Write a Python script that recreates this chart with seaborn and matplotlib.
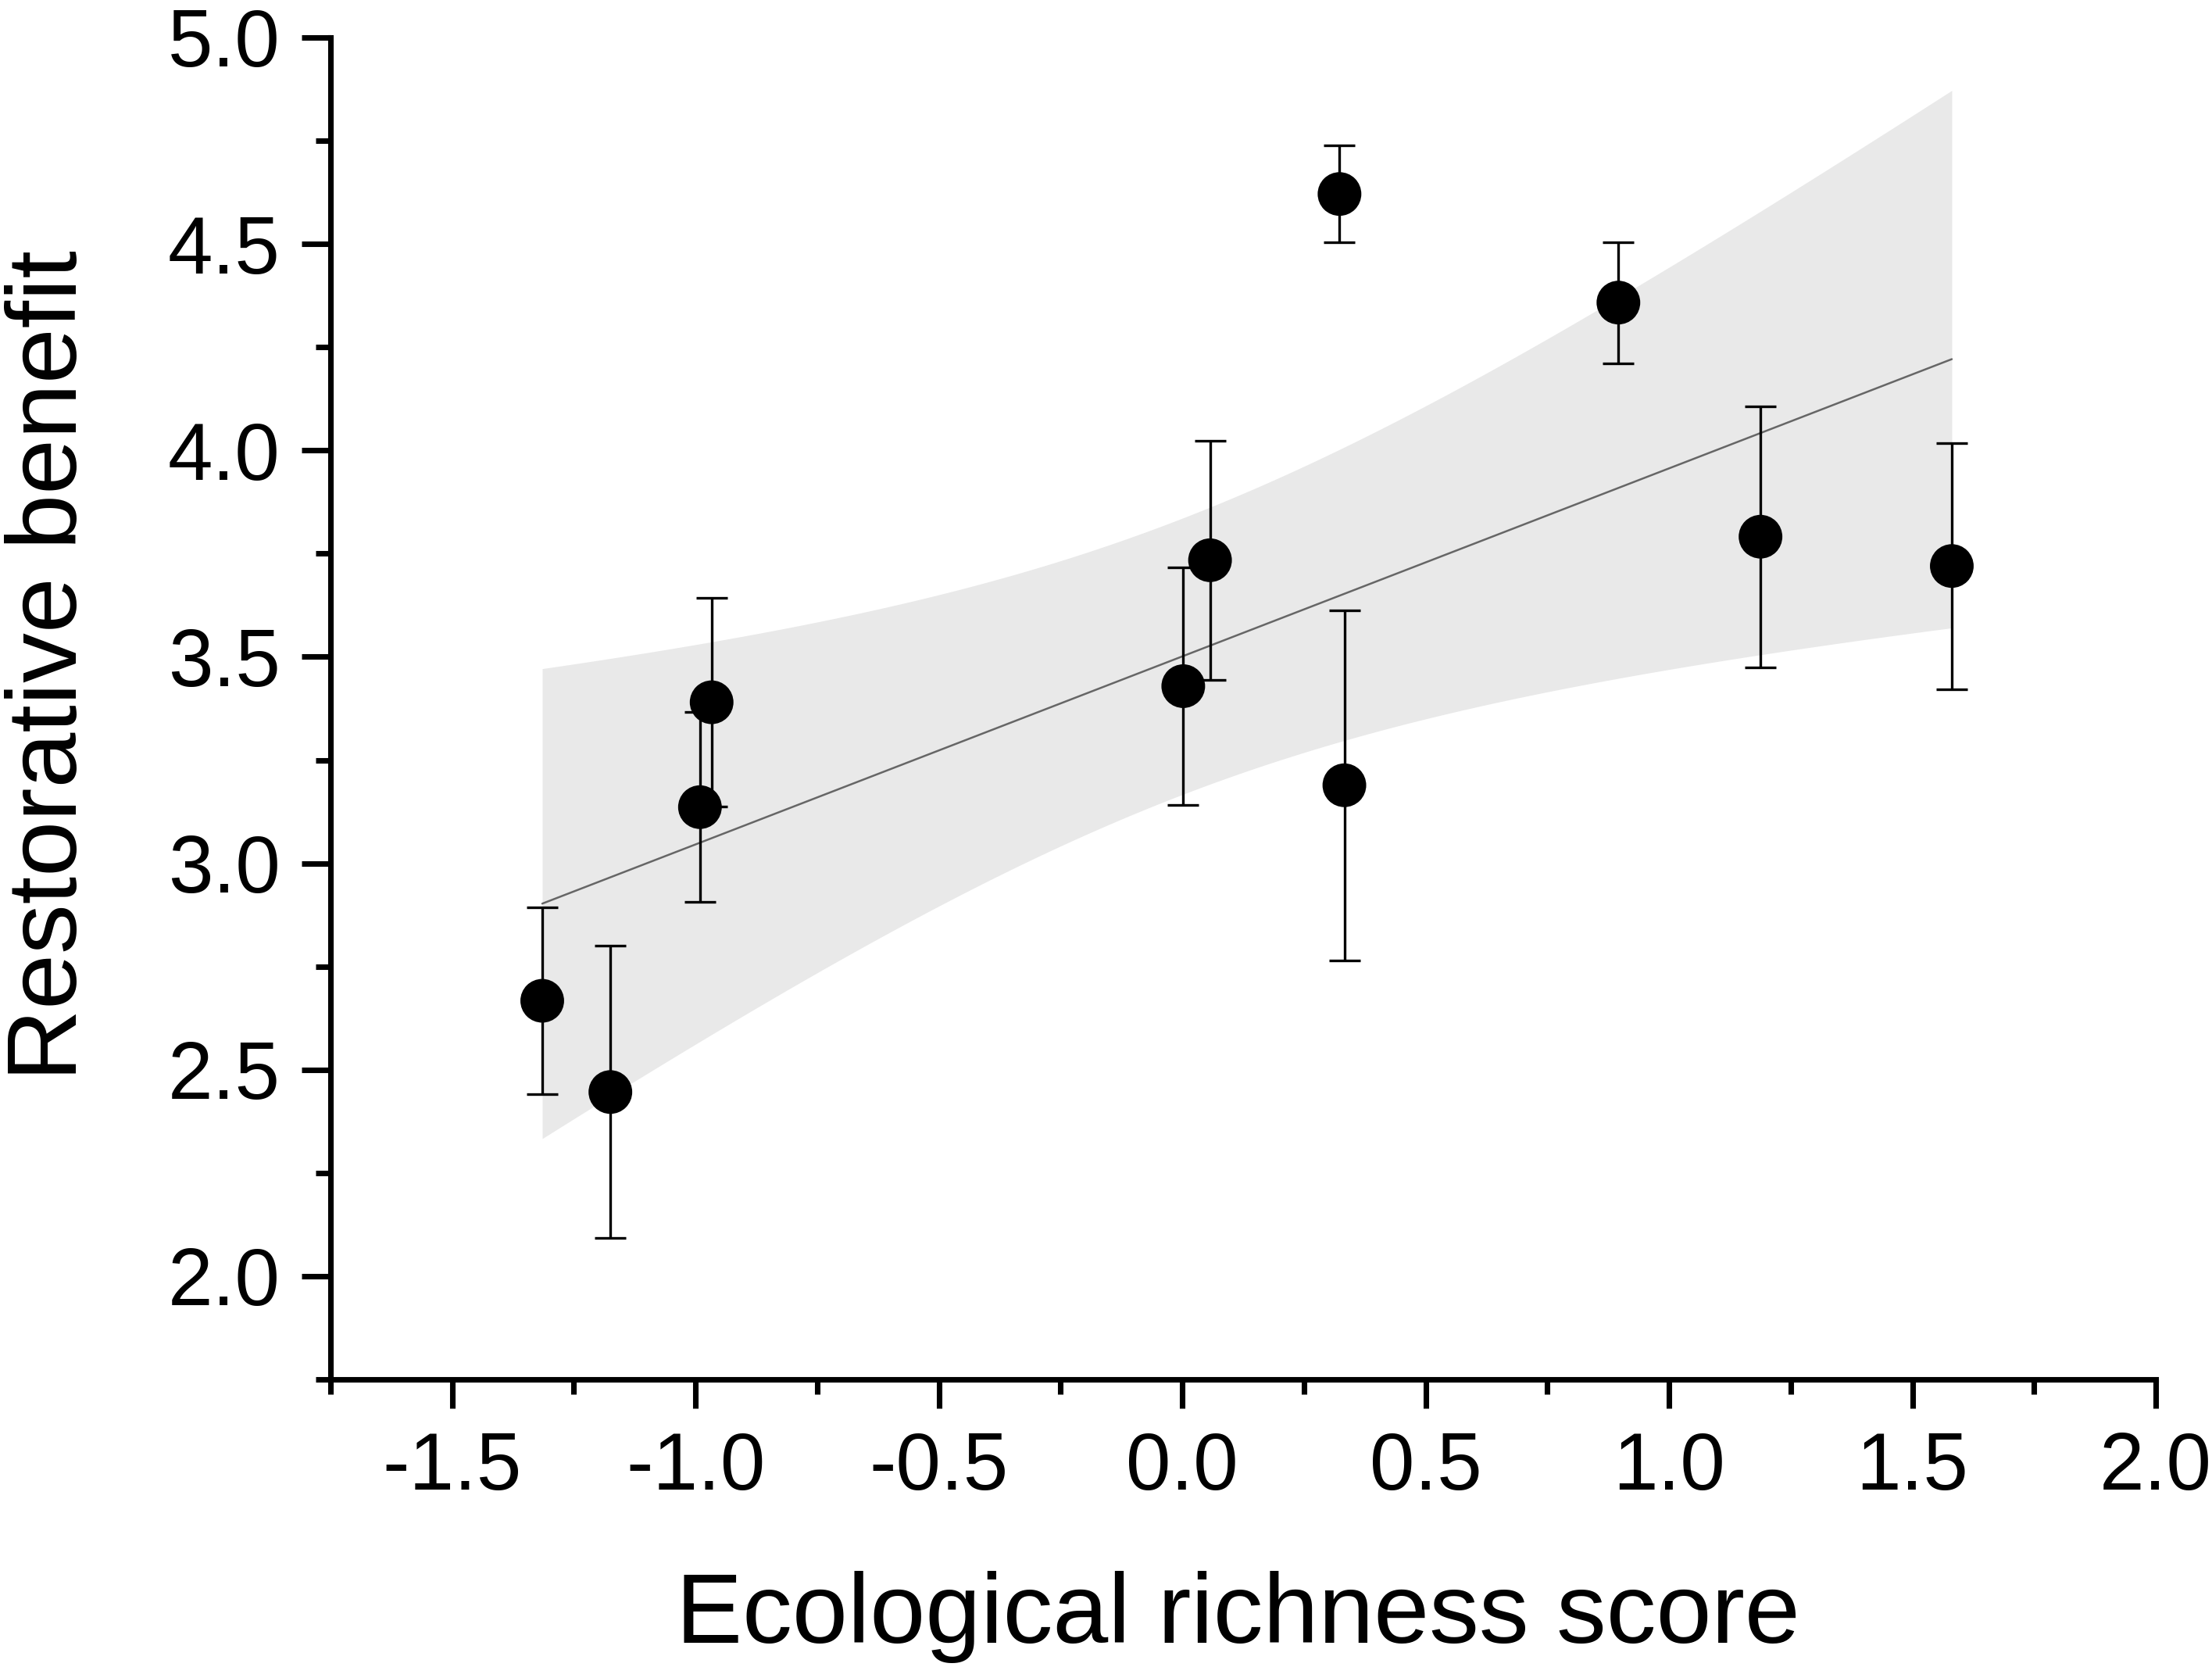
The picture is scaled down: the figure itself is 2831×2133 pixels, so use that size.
import numpy as np
import pandas as pd
import matplotlib
matplotlib.use("Agg")
import matplotlib.pyplot as plt
from matplotlib.ticker import MultipleLocator
import seaborn as sns

# ---- data ----
eco_score = [-1.315, -1.175, -0.991, -0.967, 0.002, 0.057, 0.323, 0.333, 0.896, 1.188, 1.581]
restorative = [2.667, 2.446, 3.136, 3.390, 3.429, 3.734, 4.621, 3.189, 4.358, 3.791, 3.720]
err = [0.226, 0.354, 0.230, 0.253, 0.288, 0.290, 0.117, 0.424, 0.147, 0.316, 0.298]
x_ticks = [-1.5, -1.0, -0.5, 0.0, 0.5, 1.0, 1.5, 2.0]
y_ticks = [2.0, 2.5, 3.0, 3.5, 4.0, 4.5, 5.0]

df = pd.DataFrame({"x": eco_score, "y": restorative, "err": err})

sns.set_style("ticks")
plt.rcParams["font.family"] = ["Liberation Sans", "DejaVu Sans"]
plt.rcParams["axes.unicode_minus"] = False

fig = plt.figure(figsize=(2831 / 300, 2133 / 300), dpi=300)
ax = fig.add_axes([423 / 2831, 1 - 1765 / 2133, (2759 - 423) / 2831, (1765 - 48) / 2133])

# ---- OLS fit with 95% confidence band ----
xv = df["x"].to_numpy()
yv = df["y"].to_numpy()
n = len(xv)
xbar = xv.mean()
sxx = ((xv - xbar) ** 2).sum()
slope = ((xv - xbar) * (yv - yv.mean())).sum() / sxx
intercept = yv.mean() - slope * xbar
resid = yv - (intercept + slope * xv)
s = np.sqrt((resid ** 2).sum() / (n - 2))
t_crit = 2.262  # t(0.975, df=9)
xg = np.linspace(xv.min(), xv.max(), 300)
yg = intercept + slope * xg
half = t_crit * s * np.sqrt(1 / n + (xg - xbar) ** 2 / sxx)
fit = pd.DataFrame({"x": xg, "y": yg})

ax.fill_between(xg, yg - half, yg + half, color="#e9e9e9", lw=0, zorder=1)
sns.lineplot(data=fit, x="x", y="y", ax=ax, color="#666666", lw=0.6, zorder=2)

ax.errorbar(df["x"], df["y"], yerr=df["err"], fmt="none", ecolor="black",
            elinewidth=0.8, capsize=4.9, capthick=0.8, zorder=3)
sns.scatterplot(data=df, x="x", y="y", ax=ax, color="black", s=180,
                edgecolor="none", linewidth=0, zorder=4)

# ---- axes styling ----
ax.set_xlim(-1.75, 2.0)
ax.set_ylim(1.75, 5.0)
ax.set_xticks(x_ticks)
ax.set_yticks(y_ticks)
ax.set_xticklabels([f"{v:.1f}" for v in x_ticks])
ax.set_yticklabels([f"{v:.1f}" for v in y_ticks])
ax.xaxis.set_minor_locator(MultipleLocator(0.25))
ax.yaxis.set_minor_locator(MultipleLocator(0.25))

for side in ["top", "right"]:
    ax.spines[side].set_visible(False)
for side in ["left", "bottom"]:
    ax.spines[side].set_linewidth(1.7)
    ax.spines[side].set_color("black")

ax.tick_params(which="major", direction="out", length=8.9, width=1.7,
               color="black", labelsize=24.8, labelcolor="black")
ax.tick_params(axis="x", which="major", pad=7)
ax.tick_params(axis="y", which="major", pad=6.5)
ax.tick_params(which="minor", direction="out", length=4.6, width=1.7, color="black")

ax.set_xlabel("Ecological richness score", fontsize=30.6, color="black")
ax.set_ylabel("Restorative benefit", fontsize=30.6, color="black")
ax.xaxis.set_label_coords(0.497, -0.1427)
ax.yaxis.set_label_coords(-0.128, 0.532)

ax.set_facecolor("white")
fig.patch.set_facecolor("white")
fig.savefig("out.png", dpi=300)
